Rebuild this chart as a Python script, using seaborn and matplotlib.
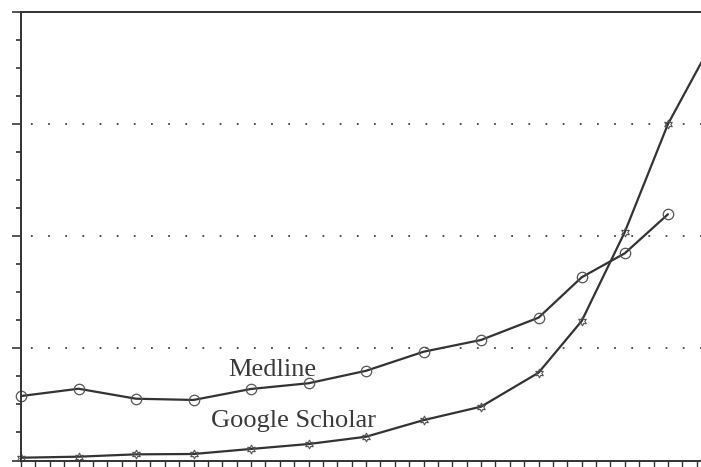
import matplotlib
matplotlib.use("Agg")
import matplotlib.pyplot as plt
import seaborn as sns
import pandas as pd
from matplotlib.ticker import MultipleLocator, NullFormatter

# values (y in gridline units, x in tick steps)
periods = [0, 4, 8, 12, 16, 20, 24, 28, 32, 36, 39, 42, 45]
medline = [0.575, 0.64, 0.551, 0.54, 0.638, 0.689, 0.80, 0.97, 1.075, 1.274, 1.634, 1.848, 2.196]
scholar_periods = periods + [48]
scholar = [0.025, 0.034, 0.055, 0.058, 0.103, 0.147, 0.212, 0.36, 0.48, 0.783, 1.244, 2.038, 3.0, 3.71]

df_med = pd.DataFrame({"period": periods, "value": medline})
df_gs = pd.DataFrame({"period": scholar_periods, "value": scholar})

sns.set_style("white")
fig = plt.figure(figsize=(7.01, 4.67), dpi=100)
ax = fig.add_axes([21 / 701, 6.5 / 467, 680 / 701, 448.5 / 467])

line_col = "#333333"
mark_col = "#555555"

sns.lineplot(data=df_med, x="period", y="value", ax=ax, color=line_col, lw=1.6,
             marker="o", markersize=7.5, markerfacecolor="none",
             markeredgecolor=mark_col, markeredgewidth=0.9, clip_on=False)
sns.lineplot(data=df_gs, x="period", y="value", ax=ax, color=line_col, lw=1.6,
             marker=(6, 1, 0), markersize=6.5, markerfacecolor="none",
             markeredgecolor=mark_col, markeredgewidth=0.8, clip_on=False)

ax.set_xlim(0, 47.3)
ax.set_ylim(0, 4)

# dotted gridlines
for g in [1, 2, 3]:
    ax.axhline(g, color="#444444", lw=1.3, linestyle=(4, (1, 8.5)), zorder=0)

ax.text(17.5, 0.754, "Medline", family="Liberation Serif", fontsize=19,
        color="#3a3a3a", ha="center", va="baseline")
ax.text(18.93, 0.30, "Google Scholar", family="Liberation Serif", fontsize=19,
        color="#3a3a3a", ha="center", va="baseline")

ax.yaxis.set_major_locator(MultipleLocator(1))
ax.yaxis.set_minor_locator(MultipleLocator(0.25))
ax.xaxis.set_major_locator(MultipleLocator(1))
ax.xaxis.set_major_formatter(NullFormatter())
ax.yaxis.set_major_formatter(NullFormatter())
ax.yaxis.set_minor_formatter(NullFormatter())
ax.tick_params(axis="y", which="major", direction="out", length=6.5, width=1.2,
               color="#333333", left=True)
ax.tick_params(axis="y", which="minor", direction="out", length=3.5, width=1.2,
               color="#333333", left=True)
ax.tick_params(axis="x", which="major", direction="out", length=4.5, width=1.0,
               color="#333333", bottom=True)

for s in ["left", "bottom", "top"]:
    ax.spines[s].set_color("#333333")
    ax.spines[s].set_linewidth(1.4)
ax.spines["right"].set_visible(False)

ax.set_xlabel("")
ax.set_ylabel("")

fig.savefig("out.png", dpi=100)
